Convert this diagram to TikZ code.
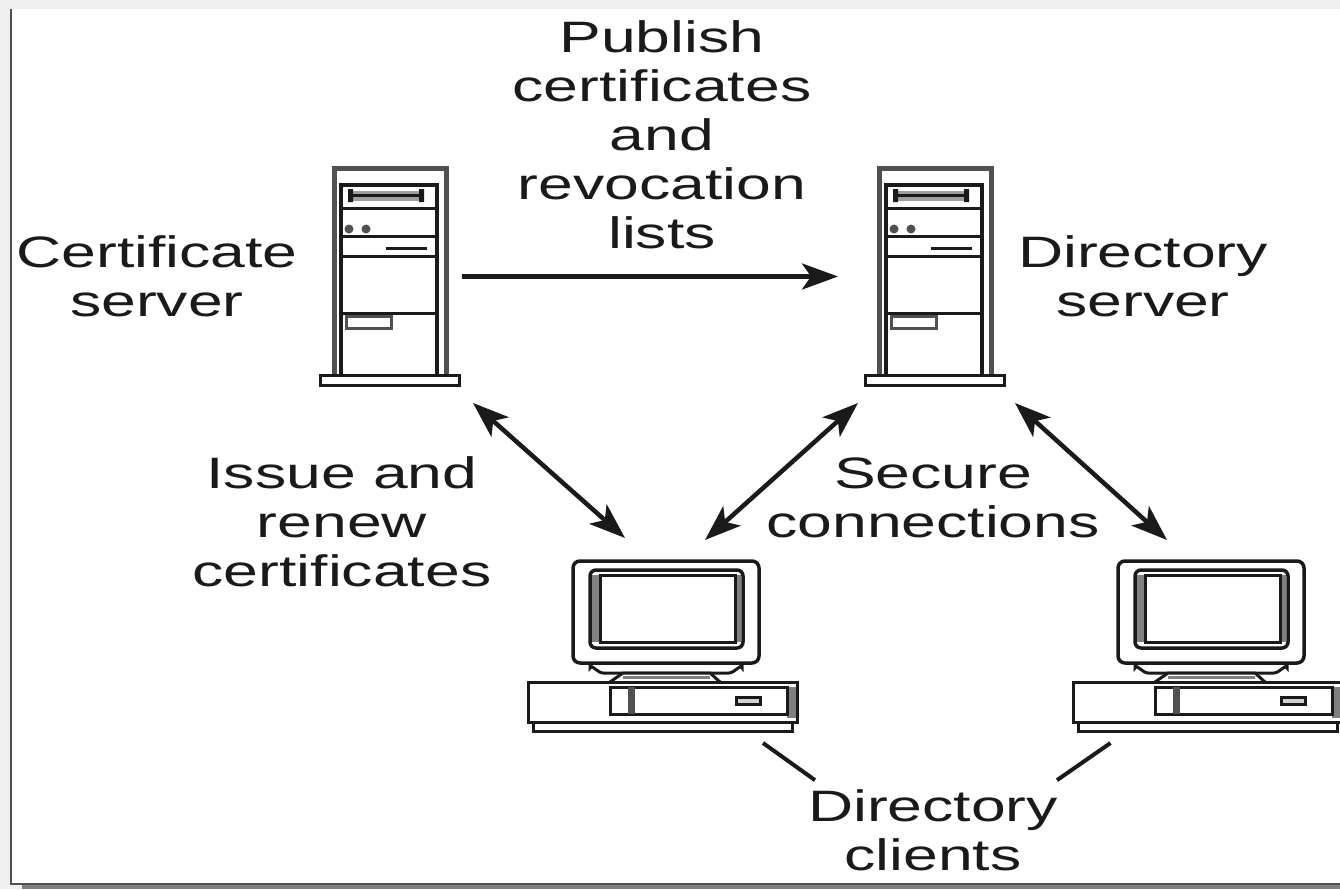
\documentclass[tikz,border=0pt]{standalone}
\usepackage{fontspec}
\newfontfamily\labfont[FakeStretch=1.42]{Liberation Sans}
\usetikzlibrary{arrows.meta}
\definecolor{pagebg}{HTML}{EFEFEF}
\definecolor{shadowc}{HTML}{808080}
\definecolor{framec}{HTML}{505050}
\definecolor{ink}{HTML}{1A1A1A}
\definecolor{wallc}{HTML}{505050}
\tikzset{
  x=1pt,y=-1pt,
  lab/.style={align=center,inner sep=0pt,text=ink,font=\labfont\fontsize{44}{49}\selectfont},
  devbox/.style={inner sep=0pt,outer sep=0pt,draw=none},
  thin ink/.style={draw=ink,line width=3pt},
  thick wall/.style={draw=wallc,line width=5pt},
  dbl/.style={line width=4.5pt,draw=ink,{Stealth[length=36pt,width=26pt,inset=9pt]}-{Stealth[length=36pt,width=26pt,inset=9pt]}},
  one/.style={line width=4.5pt,draw=ink,-{Stealth[length=36pt,width=26pt,inset=9pt]}},
  plain/.style={line width=4pt,draw=ink},
  server/.pic={
    \draw[thick wall] (15,207) -- (15,0) -- (127,0) -- (127,207);
    \draw[thin ink,line width=3.5pt] (22,207) -- (22,17) -- (118,17) -- (118,207);
    \fill[gray!75] (31,23) rectangle (104,33);
    \draw[thin ink] (31,27) -- (104,27);
    \fill[ink] (29,21) rectangle (34,34) (100,21) rectangle (105,34);
    \draw[thin ink] (22,40) -- (118,40);
    \draw[thin ink] (22,68) -- (118,68);
    \draw[thin ink] (22,88) -- (118,88);
    \draw[thin ink] (22,145) -- (118,145);
    \fill[wallc] (30,61) circle (4.5pt) (47,61) circle (4.5pt);
    \draw[thin ink] (67,80) -- (108,80);
    \draw[thin ink,draw=wallc] (27,148) rectangle (72,160);
    \draw[thin ink,fill=white] (1,207) rectangle (140,217);
  },
  client/.pic={
    \draw[thin ink,line width=3.5pt,rounded corners=7pt] (45,1) -- (231,1) -- (231,103) -- (45,103) -- cycle;
    \draw[thin ink,line width=3.5pt,rounded corners=6pt] (62,10) rectangle (215,88);
    \draw[draw=shadowc,line width=7pt] (67,15) -- (67,82) (209,15) -- (209,82);
    \draw[thin ink] (72,15) rectangle (207,82);
    \draw[thin ink] (62,103) -- (62,108) to[out=90,in=180] (75,113) -- (201,113) to[out=0,in=90] (214,108) -- (214,103);
    \draw[thin ink,fill=white] (82,122) -- (95,113) -- (182,113) -- (192,122);
    \draw[thin ink,draw=shadowc] (95,117) -- (182,117);
    \draw[thin ink,fill=white] (0,122) rectangle (269,162);
    \draw[thin ink] (5,162) -- (5,171) -- (264,171) -- (264,162);
    \fill[shadowc] (259,127) rectangle (268,158);
    \draw[thin ink] (82,127) rectangle (259,154);
    \draw[draw=wallc,line width=7pt] (103,127) -- (103,154);
    \draw[thin ink,fill=gray!35] (208,137) rectangle (232,144);
  },
}
\begin{document}
\begin{tikzpicture}
\useasboundingbox (0,0) rectangle (1340,889);
\fill[pagebg] (0,0) rectangle (1340,889);
\fill[shadowc] (22,884) rectangle (1340,889);
\fill[white] (11,9) rectangle (1340,883);
\draw[framec,line width=2pt] (11,9) -- (11,883.5) -- (1340,883.5);

\pic at (319,168) {server};
\pic at (864,168) {server};
\pic at (528,560) {client};
\pic at (1073,560) {client};

\node[devbox,minimum width=140pt,minimum height=217pt] (cert) at (390,276.5) {};
\node[devbox,minimum width=140pt,minimum height=217pt] (dirs) at (934,276.5) {};
\node[devbox,minimum width=270pt,minimum height=172pt] (cla) at (663,646) {};
\node[devbox,minimum width=267pt,minimum height=172pt] (clb) at (1206.5,646) {};

\node[lab] (publish) at (662,135) {Publish\\certificates\\and\\revocation\\lists};
\node[lab] (certlab) at (157,276) {Certificate\\server};
\node[lab] (dirlab) at (1143,276) {Directory\\server};
\node[lab] (issue) at (342,522) {Issue and\\renew\\certificates};
\node[lab] (secure) at (933,498) {Secure\\connections};
\node[lab] (dcl) at (933,830) {Directory\\clients};

\draw[one] ([xshift=2pt]cert.east) -- ([xshift=-26pt]dirs.west);
\draw[dbl] ([shift={(13,18)}]cert.south east) -- ([shift={(97,-22)}]cla.north west);
\draw[dbl] ([shift={(-6,18)}]dirs.south west) -- ([shift={(42,-20)}]cla.north);
\draw[dbl] ([shift={(11,18)}]dirs.south east) -- ([shift={(94,-20)}]clb.north west);
\draw[plain] ([shift={(100,11)}]cla.south) -- ([shift={(-118,-9)}]dcl.north);
\draw[plain] ([shift={(-96,11)}]clb.south) -- ([shift={(124,-9)}]dcl.north);
\end{tikzpicture}
\end{document}
